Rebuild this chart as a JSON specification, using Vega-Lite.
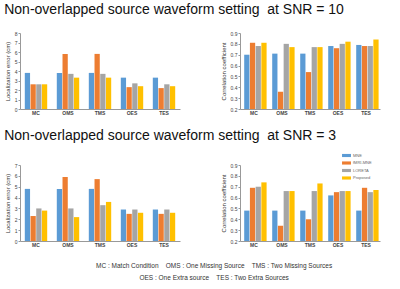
{
  "$schema": "https://vega.github.io/schema/vega-lite/v6.json",
  "padding": {"left": 4, "top": 3, "right": 4, "bottom": 0},
  "background": "white",
  "datasets": {
    "d": [
      {"panel": "le10", "cond": "MC", "method": "MNE", "value": 3.8},
      {"panel": "le10", "cond": "MC", "method": "fMRI-MNE", "value": 2.6},
      {"panel": "le10", "cond": "MC", "method": "LORETA", "value": 2.6},
      {"panel": "le10", "cond": "MC", "method": "Proposed", "value": 2.6},
      {"panel": "le10", "cond": "OMS", "method": "MNE", "value": 3.8},
      {"panel": "le10", "cond": "OMS", "method": "fMRI-MNE", "value": 5.8},
      {"panel": "le10", "cond": "OMS", "method": "LORETA", "value": 3.7},
      {"panel": "le10", "cond": "OMS", "method": "Proposed", "value": 3.3},
      {"panel": "le10", "cond": "TMS", "method": "MNE", "value": 3.8},
      {"panel": "le10", "cond": "TMS", "method": "fMRI-MNE", "value": 5.8},
      {"panel": "le10", "cond": "TMS", "method": "LORETA", "value": 3.7},
      {"panel": "le10", "cond": "TMS", "method": "Proposed", "value": 3.3},
      {"panel": "le10", "cond": "OES", "method": "MNE", "value": 3.3},
      {"panel": "le10", "cond": "OES", "method": "fMRI-MNE", "value": 2.3},
      {"panel": "le10", "cond": "OES", "method": "LORETA", "value": 2.7},
      {"panel": "le10", "cond": "OES", "method": "Proposed", "value": 2.4},
      {"panel": "le10", "cond": "TES", "method": "MNE", "value": 3.3},
      {"panel": "le10", "cond": "TES", "method": "fMRI-MNE", "value": 2.2},
      {"panel": "le10", "cond": "TES", "method": "LORETA", "value": 2.6},
      {"panel": "le10", "cond": "TES", "method": "Proposed", "value": 2.4},

      {"panel": "cc10", "cond": "MC", "method": "MNE", "value": 0.70},
      {"panel": "cc10", "cond": "MC", "method": "fMRI-MNE", "value": 0.81},
      {"panel": "cc10", "cond": "MC", "method": "LORETA", "value": 0.78},
      {"panel": "cc10", "cond": "MC", "method": "Proposed", "value": 0.81},
      {"panel": "cc10", "cond": "OMS", "method": "MNE", "value": 0.71},
      {"panel": "cc10", "cond": "OMS", "method": "fMRI-MNE", "value": 0.36},
      {"panel": "cc10", "cond": "OMS", "method": "LORETA", "value": 0.80},
      {"panel": "cc10", "cond": "OMS", "method": "Proposed", "value": 0.77},
      {"panel": "cc10", "cond": "TMS", "method": "MNE", "value": 0.71},
      {"panel": "cc10", "cond": "TMS", "method": "fMRI-MNE", "value": 0.54},
      {"panel": "cc10", "cond": "TMS", "method": "LORETA", "value": 0.77},
      {"panel": "cc10", "cond": "TMS", "method": "Proposed", "value": 0.77},
      {"panel": "cc10", "cond": "OES", "method": "MNE", "value": 0.78},
      {"panel": "cc10", "cond": "OES", "method": "fMRI-MNE", "value": 0.76},
      {"panel": "cc10", "cond": "OES", "method": "LORETA", "value": 0.80},
      {"panel": "cc10", "cond": "OES", "method": "Proposed", "value": 0.82},
      {"panel": "cc10", "cond": "TES", "method": "MNE", "value": 0.79},
      {"panel": "cc10", "cond": "TES", "method": "fMRI-MNE", "value": 0.78},
      {"panel": "cc10", "cond": "TES", "method": "LORETA", "value": 0.78},
      {"panel": "cc10", "cond": "TES", "method": "Proposed", "value": 0.84},

      {"panel": "le3", "cond": "MC", "method": "MNE", "value": 4.8},
      {"panel": "le3", "cond": "MC", "method": "fMRI-MNE", "value": 2.3},
      {"panel": "le3", "cond": "MC", "method": "LORETA", "value": 3.0},
      {"panel": "le3", "cond": "MC", "method": "Proposed", "value": 2.8},
      {"panel": "le3", "cond": "OMS", "method": "MNE", "value": 4.8},
      {"panel": "le3", "cond": "OMS", "method": "fMRI-MNE", "value": 5.9},
      {"panel": "le3", "cond": "OMS", "method": "LORETA", "value": 3.0},
      {"panel": "le3", "cond": "OMS", "method": "Proposed", "value": 2.2},
      {"panel": "le3", "cond": "TMS", "method": "MNE", "value": 4.8},
      {"panel": "le3", "cond": "TMS", "method": "fMRI-MNE", "value": 5.7},
      {"panel": "le3", "cond": "TMS", "method": "LORETA", "value": 3.3},
      {"panel": "le3", "cond": "TMS", "method": "Proposed", "value": 3.6},
      {"panel": "le3", "cond": "OES", "method": "MNE", "value": 2.9},
      {"panel": "le3", "cond": "OES", "method": "fMRI-MNE", "value": 2.5},
      {"panel": "le3", "cond": "OES", "method": "LORETA", "value": 2.9},
      {"panel": "le3", "cond": "OES", "method": "Proposed", "value": 2.6},
      {"panel": "le3", "cond": "TES", "method": "MNE", "value": 2.9},
      {"panel": "le3", "cond": "TES", "method": "fMRI-MNE", "value": 2.5},
      {"panel": "le3", "cond": "TES", "method": "LORETA", "value": 2.9},
      {"panel": "le3", "cond": "TES", "method": "Proposed", "value": 2.6},

      {"panel": "cc3", "cond": "MC", "method": "MNE", "value": 0.48},
      {"panel": "cc3", "cond": "MC", "method": "fMRI-MNE", "value": 0.69},
      {"panel": "cc3", "cond": "MC", "method": "LORETA", "value": 0.70},
      {"panel": "cc3", "cond": "MC", "method": "Proposed", "value": 0.74},
      {"panel": "cc3", "cond": "OMS", "method": "MNE", "value": 0.48},
      {"panel": "cc3", "cond": "OMS", "method": "fMRI-MNE", "value": 0.34},
      {"panel": "cc3", "cond": "OMS", "method": "LORETA", "value": 0.66},
      {"panel": "cc3", "cond": "OMS", "method": "Proposed", "value": 0.66},
      {"panel": "cc3", "cond": "TMS", "method": "MNE", "value": 0.48},
      {"panel": "cc3", "cond": "TMS", "method": "fMRI-MNE", "value": 0.40},
      {"panel": "cc3", "cond": "TMS", "method": "LORETA", "value": 0.66},
      {"panel": "cc3", "cond": "TMS", "method": "Proposed", "value": 0.73},
      {"panel": "cc3", "cond": "OES", "method": "MNE", "value": 0.62},
      {"panel": "cc3", "cond": "OES", "method": "fMRI-MNE", "value": 0.65},
      {"panel": "cc3", "cond": "OES", "method": "LORETA", "value": 0.66},
      {"panel": "cc3", "cond": "OES", "method": "Proposed", "value": 0.66},
      {"panel": "cc3", "cond": "TES", "method": "MNE", "value": 0.48},
      {"panel": "cc3", "cond": "TES", "method": "fMRI-MNE", "value": 0.69},
      {"panel": "cc3", "cond": "TES", "method": "LORETA", "value": 0.65},
      {"panel": "cc3", "cond": "TES", "method": "Proposed", "value": 0.67}
    ]
  },
  "config": {
    "font": "Liberation Sans",
    "view": {"stroke": null},
    "title": {"fontSize": 14, "fontWeight": "normal", "color": "#111", "anchor": "start", "offset": 8},
    "axis": {
      "labelFontSize": 5,
      "titleFontSize": 6,
      "titleFontWeight": "normal",
      "labelColor": "#444",
      "titleColor": "#333",
      "domainColor": "#999",
      "tickColor": "#999",
      "tickSize": 2,
      "labelPadding": 1,
      "grid": false
    }
  },
  "spacing": 14,
  "resolve": {"legend": {"color": "independent"}},
  "title": {
    "text": ["MC : Match Condition\u00a0\u00a0\u00a0\u00a0OMS : One Missing Source\u00a0\u00a0\u00a0\u00a0TMS : Two Missing Sources", "OES : One Extra source\u00a0\u00a0\u00a0\u00a0TES : Two Extra Sources"],
    "orient": "bottom",
    "anchor": "middle",
    "fontSize": 6.5,
    "color": "#333",
    "offset": 16,
    "lineHeight": 12,
    "dx": 22
  },
  "vconcat": [
    {
      "title": {"text": "Non-overlapped source waveform setting\u00a0\u00a0at SNR = 10", "offset": 14},
      "spacing": 40,
      "resolve": {"legend": {"color": "independent"}},
      "hconcat": [
        {
          "data": {"name": "d"},
          "transform": [{"filter": "datum.panel == 'le10'"}],
          "width": 160, "height": 76,
          "mark": {"type": "bar"},
          "encoding": {
            "x": {"field": "cond", "type": "nominal", "sort": ["MC", "OMS", "TMS", "OES", "TES"], "title": null, "scale": {"paddingInner": 0.3, "paddingOuter": 0.15}, "axis": {"labelAngle": 0, "labelFontWeight": "bold", "ticks": false}},
            "xOffset": {"field": "method", "sort": ["MNE", "fMRI-MNE", "LORETA", "Proposed"], "scale": {"paddingInner": 0.08}},
            "y": {"field": "value", "type": "quantitative", "scale": {"domain": [0, 8]}, "title": "Localization error (cm)", "axis": {"values": [0, 1, 2, 3, 4, 5, 6, 7, 8], "titlePadding": 4}},
            "color": {"field": "method", "type": "nominal", "sort": ["MNE", "fMRI-MNE", "LORETA", "Proposed"], "scale": {"range": ["#5B9BD5", "#ED7D31", "#A5A5A5", "#FFC000"]}, "legend": null}
          }
        },
        {
          "data": {"name": "d"},
          "transform": [{"filter": "datum.panel == 'cc10'"}],
          "width": 140, "height": 76,
          "mark": {"type": "bar"},
          "encoding": {
            "x": {"field": "cond", "type": "nominal", "sort": ["MC", "OMS", "TMS", "OES", "TES"], "title": null, "scale": {"paddingInner": 0.3, "paddingOuter": 0.15}, "axis": {"labelAngle": 0, "labelFontWeight": "bold", "ticks": false}},
            "xOffset": {"field": "method", "sort": ["MNE", "fMRI-MNE", "LORETA", "Proposed"], "scale": {"paddingInner": 0.08}},
            "y": {"field": "value", "type": "quantitative", "scale": {"domain": [0.2, 0.9], "zero": false}, "title": "Correlation coefficient", "axis": {"values": [0.2, 0.3, 0.4, 0.5, 0.6, 0.7, 0.8, 0.9], "format": ".1f", "titlePadding": 4}},
            "y2": {"datum": 0.2},
            "color": {"field": "method", "type": "nominal", "sort": ["MNE", "fMRI-MNE", "LORETA", "Proposed"], "scale": {"range": ["#5B9BD5", "#ED7D31", "#A5A5A5", "#FFC000"]}, "legend": null}
          }
        }
      ]
    },
    {
      "title": {"text": "Non-overlapped source waveform setting\u00a0\u00a0at SNR = 3"},
      "spacing": 40,
      "resolve": {"legend": {"color": "independent"}},
      "hconcat": [
        {
          "data": {"name": "d"},
          "transform": [{"filter": "datum.panel == 'le3'"}],
          "width": 160, "height": 76,
          "mark": {"type": "bar"},
          "encoding": {
            "x": {"field": "cond", "type": "nominal", "sort": ["MC", "OMS", "TMS", "OES", "TES"], "title": null, "scale": {"paddingInner": 0.3, "paddingOuter": 0.15}, "axis": {"labelAngle": 0, "labelFontWeight": "bold", "ticks": false}},
            "xOffset": {"field": "method", "sort": ["MNE", "fMRI-MNE", "LORETA", "Proposed"], "scale": {"paddingInner": 0.08}},
            "y": {"field": "value", "type": "quantitative", "scale": {"domain": [0, 7]}, "title": "Localization error (cm)", "axis": {"values": [0, 1, 2, 3, 4, 5, 6, 7], "titlePadding": 4}},
            "color": {"field": "method", "type": "nominal", "sort": ["MNE", "fMRI-MNE", "LORETA", "Proposed"], "scale": {"range": ["#5B9BD5", "#ED7D31", "#A5A5A5", "#FFC000"]}, "legend": null}
          }
        },
        {
          "data": {"name": "d"},
          "transform": [{"filter": "datum.panel == 'cc3'"}],
          "width": 140, "height": 76,
          "mark": {"type": "bar"},
          "encoding": {
            "x": {"field": "cond", "type": "nominal", "sort": ["MC", "OMS", "TMS", "OES", "TES"], "title": null, "scale": {"paddingInner": 0.3, "paddingOuter": 0.15}, "axis": {"labelAngle": 0, "labelFontWeight": "bold", "ticks": false}},
            "xOffset": {"field": "method", "sort": ["MNE", "fMRI-MNE", "LORETA", "Proposed"], "scale": {"paddingInner": 0.08}},
            "y": {"field": "value", "type": "quantitative", "scale": {"domain": [0.2, 0.9], "zero": false}, "title": "Correlation coefficient", "axis": {"values": [0.2, 0.3, 0.4, 0.5, 0.6, 0.7, 0.8, 0.9], "format": ".1f", "titlePadding": 4}},
            "y2": {"datum": 0.2},
            "color": {"field": "method", "type": "nominal", "sort": ["MNE", "fMRI-MNE", "LORETA", "Proposed"], "scale": {"range": ["#5B9BD5", "#ED7D31", "#A5A5A5", "#FFC000"]}, "legend": {"orient": "none", "legendX": 102, "legendY": -14, "title": null, "symbolType": "M-1,-0.35H1V0.35H-1Z", "symbolSize": 80, "symbolStrokeWidth": 0, "labelFontSize": 4, "rowPadding": 0.5, "labelOffset": 2, "labelColor": "#666"}}
          }
        }
      ]
    }
  ]
}
